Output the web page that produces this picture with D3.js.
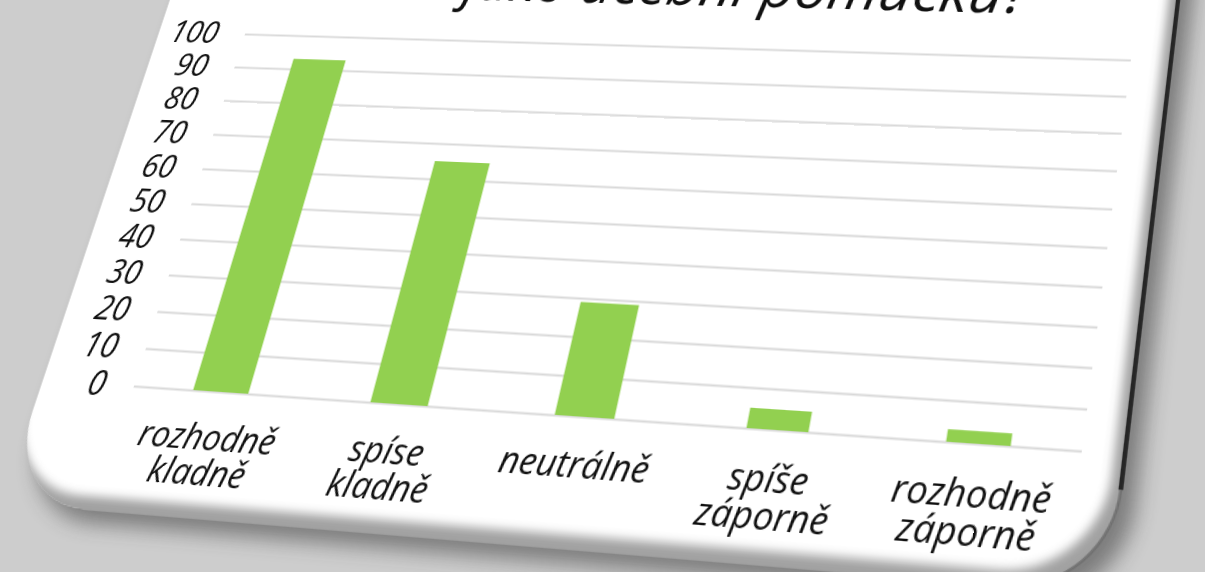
<!DOCTYPE html>
<html><head><meta charset="utf-8">
<script src="https://cdn.jsdelivr.net/npm/d3@7"></script>
<style>
html,body{margin:0;padding:0;width:1205px;height:572px;overflow:hidden;background:#cdcdcd;}
#stage{position:absolute;left:0;top:0;width:1205px;height:572px;overflow:hidden;}
#chart{position:absolute;left:0;top:0;transform-origin:0 0;overflow:visible;}
</style></head><body><div id="stage"><svg id="chart"></svg></div>
<script>
// ---- data ----
const categories = ["rozhodně kladně", "spíse kladně", "neutrálně", "spíše záporně", "rozhodně záporně"];
const values = [93, 65, 29, 5, 3];
const yTicks = [0, 10, 20, 30, 40, 50, 60, 70, 80, 90, 100];
const titleText = "jako učební pomůcku?";

// ---- flat layout ----
const PL = 200, PT = 300, W = 900, H = 360;
const SVGW = 1400, SVGH = 950;
const FONT = "'Open Sans','Noto Sans',sans-serif";

// screen quad the plot rectangle is projected to (card seen in perspective)
const quad = [[245, 34], [1131, 60], [1082, 451], [134, 386]];

function homography(src, dst) {
  const A = [], B = [];
  for (let i = 0; i < 4; i++) {
    const [x, y] = src[i], [X, Y] = dst[i];
    A.push([x, y, 1, 0, 0, 0, -x * X, -y * X]); B.push(X);
    A.push([0, 0, 0, x, y, 1, -x * Y, -y * Y]); B.push(Y);
  }
  const n = 8;
  for (let c = 0; c < n; c++) {
    let p = c;
    for (let r = c + 1; r < n; r++) if (Math.abs(A[r][c]) > Math.abs(A[p][c])) p = r;
    [A[c], A[p]] = [A[p], A[c]]; [B[c], B[p]] = [B[p], B[c]];
    for (let r = 0; r < n; r++) {
      if (r === c) continue;
      const f = A[r][c] / A[c][c];
      for (let k = c; k < n; k++) A[r][k] -= f * A[c][k];
      B[r] -= f * B[c];
    }
  }
  return B.map((b, i) => b / A[i][i]);
}
const src = [[PL, PT], [PL + W, PT], [PL + W, PT + H], [PL, PT + H]];
const [a, b, c, d, e, f, g, h] = homography(src, quad);

const svg = d3.select("#chart").attr("width", SVGW).attr("height", SVGH)
  .style("transform", `matrix3d(${a},${d},0,${g},${b},${e},0,${h},0,0,1,0,${c},${f},0,1)`);

const defs = svg.append("defs");
defs.append("filter").attr("id", "blur8").attr("x", "-20%").attr("y", "-20%").attr("width", "140%").attr("height", "140%")
  .append("feGaussianBlur").attr("stdDeviation", 9);
defs.append("filter").attr("id", "blur4").attr("x", "-20%").attr("y", "-20%").attr("width", "140%").attr("height", "140%")
  .append("feGaussianBlur").attr("stdDeviation", 4);

// card geometry (flat)
const cL = PL - 0.107 * W, cR = PL + 1.041 * W, cT = PT - 420, cB = PT + 1.32 * H, rad = 85;
function cardPath(dx = 0, dy = 0) {
  const p = d3.path();
  const l = cL + dx, r = cR + dx, t = cT + dy, bo = cB + dy;
  p.moveTo(l, t);
  p.lineTo(r, t);
  p.lineTo(r, bo - rad);
  p.arcTo(r, bo, r - rad, bo, rad);
  p.lineTo(l + rad, bo);
  p.arcTo(l, bo, l, bo - rad, rad);
  p.closePath();
  return p.toString();
}
defs.append("clipPath").attr("id", "cardClip").append("path").attr("d", cardPath());

// drop shadow
svg.append("path").attr("d", cardPath(14, 12)).attr("fill", "#3a3a3a").attr("opacity", 0.55).attr("filter", "url(#blur8)");
// card
svg.append("path").attr("d", cardPath()).attr("fill", "#ffffff");
// inner shading along right / bottom edges
svg.append("g").attr("clip-path", "url(#cardClip)")
  .append("path")
  .attr("d", `M${cL - 300},${cT - 300}H${cR + 300}V${cB + 300}H${cL - 300}Z ` + cardPath(-9, -12))
  .attr("fill-rule", "evenodd").attr("fill", "#8a8a8a").attr("opacity", 0.8).attr("filter", "url(#blur4)");
// dark right edge
svg.append("path").attr("d", `M${cR},${cT}L${cR},${cB - rad}`).attr("stroke", "#262626").attr("stroke-width", 4).attr("fill", "none");
svg.append("path").attr("d", `M${cR},${cB - rad}A${rad},${rad} 0 0 1 ${cR - rad},${cB}`).attr("stroke", "#6a6a6a").attr("stroke-width", 2.5).attr("fill", "none").attr("opacity", 0.8);

// title (last line, mostly cut by the top of the view)
svg.append("text").attr("x", PL + 0.885 * W).attr("y", PT - 44)
  .attr("text-anchor", "end").attr("font-family", FONT).attr("font-style", "italic")
  .attr("font-size", 58).attr("fill", "#111").text(titleText);

// ---- chart ----
const plot = svg.append("g").attr("transform", `translate(${PL},${PT})`);
const y = d3.scaleLinear().domain([0, 100]).range([H, 0]);
const x = d3.scaleBand().domain(categories).range([0, W]).paddingInner(0.685).paddingOuter(0.3425);

const gY = plot.append("g").call(d3.axisLeft(y).tickValues(yTicks).tickSize(-W).tickPadding(30));
gY.select(".domain").remove();
gY.selectAll(".tick line").attr("stroke", "#d9d9d9").attr("stroke-width", 2.2);
gY.selectAll(".tick text").attr("font-family", FONT).attr("font-style", "italic").attr("font-size", 32).attr("fill", "#111");

plot.append("g").selectAll("rect").data(values).join("rect")
  .attr("x", (v, i) => x(categories[i])).attr("width", x.bandwidth())
  .attr("y", v => y(v)).attr("height", v => H - y(v)).attr("fill", "#92d050");

const gX = plot.append("g").attr("transform", `translate(0,${H})`)
  .call(d3.axisBottom(x).tickSize(0).tickPadding(0));
gX.select(".domain").remove();
gX.selectAll(".tick text").each(function (dd) {
  const t = d3.select(this).text(null).attr("y", 0).attr("dy", null)
    .attr("font-family", FONT).attr("font-style", "italic").attr("font-size", 33).attr("fill", "#111");
  dd.split(" ").forEach((w, i) => t.append("tspan").attr("x", 0).attr("y", 54 + i * 32).text(w));
});
</script></body></html>
